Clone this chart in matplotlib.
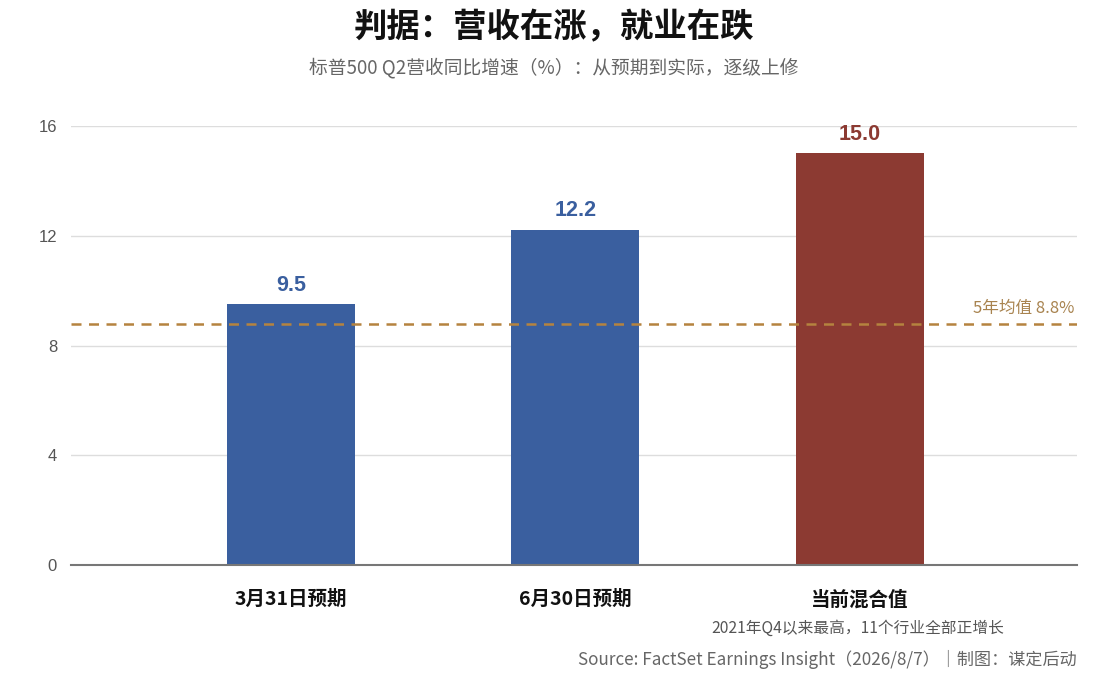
import matplotlib
matplotlib.use("Agg")
import matplotlib.pyplot as plt

plt.rcParams['font.family'] = ['Noto Sans CJK SC', 'DejaVu Sans']
latin = ['Liberation Sans', 'Noto Sans CJK SC']

# data
categories = ["3月31日预期", "6月30日预期", "当前混合值"]
values = [9.5, 12.2, 15.0]
bar_colors = ["#3a5f9f", "#3a5f9f", "#8c3a32"]
avg_5y = 8.8
yticks = [0, 4, 8, 12, 16]

fig = plt.figure(figsize=(11.08, 6.85), dpi=100)
ax = fig.add_axes([71 / 1108, 1 - 565 / 685, (1077 - 71) / 1108, (565 - 126) / 685])

x = list(range(len(categories)))
ax.bar(x, values, width=0.45, color=bar_colors, zorder=2)

# bar value labels
for xi, v, c in zip(x, values, bar_colors):
    ax.text(xi, v + 0.32, f"{v:.1f}", ha="center", va="bottom",
            fontsize=15.5, fontweight="bold", color=c, family=latin)

# 5-year average line
ax.axhline(avg_5y, color="#b5833f", linestyle=(0, (4, 3)), linewidth=1.8, zorder=3)
ax.text(2.755, avg_5y + 0.25, f"5年均值 {avg_5y}%", ha="right", va="bottom",
        fontsize=12, color="#a8834f")

ax.set_xlim(-0.775, 2.765)
ax.set_ylim(0, 16)
ax.set_yticks(yticks)
ax.set_yticklabels([str(t) for t in yticks], fontsize=12, color="#555555",
                   family=latin)
ax.set_xticks(x)
ax.set_xticklabels(categories, fontsize=14, fontweight="bold", color="#111111")
ax.tick_params(axis="y", length=0, pad=10)
ax.tick_params(axis="x", length=0, pad=18)
ax.grid(axis="y", color="#dddddd", linewidth=1, zorder=0)
ax.set_axisbelow(True)
for s in ["top", "right", "left"]:
    ax.spines[s].set_visible(False)
ax.spines["bottom"].set_color("#777777")
ax.spines["bottom"].set_linewidth(1.5)

# titles
fig.text(0.5, 1 - 28 / 685, "判据：营收在涨，就业在跌", ha="center", va="center",
         fontsize=24, fontweight="bold", color="#111111")
fig.text(0.5, 1 - 68 / 685, "标普500 Q2营收同比增速（%）：从预期到实际，逐级上修",
         ha="center", va="center", fontsize=13.5, color="#666666")

# notes
fig.text(858 / 1108, 1 - 628 / 685, "2021年Q4以来最高，11个行业全部正增长",
         ha="center", va="center", fontsize=11.3, color="#555555")
fig.text(1077 / 1108, 1 - 659 / 685, "Source: FactSet Earnings Insight（2026/8/7）｜制图：谋定后动",
         ha="right", va="center", fontsize=12.3, color="#666666")

fig.savefig("out.png", dpi=100, facecolor="white")
